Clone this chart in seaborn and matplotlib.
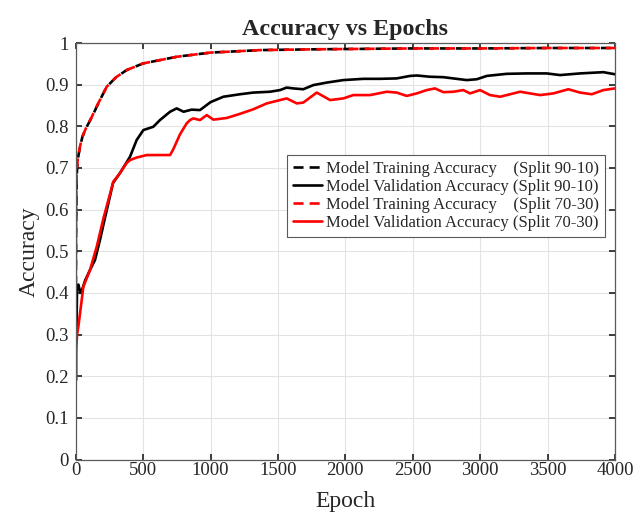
import matplotlib
matplotlib.use("Agg")
import matplotlib.pyplot as plt
from matplotlib.lines import Line2D
import seaborn as sns
import pandas as pd

# Training accuracy, split 90-10
train_9010_epoch = [0, 3, 7, 15, 32, 50, 82, 120, 156, 200, 230, 300, 378, 500,
                    750, 1000, 1370, 1800, 2500, 3000, 3500, 4000]
train_9010_acc = [0.30, 0.55, 0.68, 0.72, 0.751, 0.775, 0.799, 0.822, 0.847, 0.876,
                  0.895, 0.918, 0.935, 0.951, 0.967, 0.977, 0.983, 0.985, 0.987,
                  0.987, 0.988, 0.988]

# Validation accuracy, split 90-10
val_9010_epoch = [0, 5, 10, 20, 35, 50, 70, 106, 143, 180, 217, 277, 329, 403, 452,
                  502, 576, 625, 700, 749, 800, 860, 922, 1000, 1095, 1219, 1317,
                  1441, 1516, 1565, 1614, 1688, 1763, 1862, 1985, 2134, 2257, 2381,
                  2480, 2530, 2628, 2727, 2801, 2900, 2975, 3049, 3197, 3346, 3494,
                  3593, 3741, 3914, 4000]
val_9010_acc = [0.33, 0.30, 0.41, 0.42, 0.40, 0.41, 0.43, 0.455, 0.479, 0.527, 0.58,
                0.664, 0.688, 0.727, 0.767, 0.791, 0.799, 0.815, 0.835, 0.843, 0.835,
                0.840, 0.839, 0.858, 0.871, 0.877, 0.881, 0.883, 0.887, 0.893, 0.891,
                0.889, 0.899, 0.905, 0.911, 0.914, 0.914, 0.915, 0.921, 0.922, 0.919,
                0.918, 0.915, 0.911, 0.913, 0.921, 0.926, 0.927, 0.927, 0.923, 0.927,
                0.930, 0.925]

# Training accuracy, split 70-30
train_7030_epoch = [0, 3, 7, 15, 32, 50, 82, 120, 156, 200, 230, 300, 378, 500,
                    750, 1000, 1370, 1800, 2500, 3000, 3500, 4000]
train_7030_acc = [0.40, 0.58, 0.69, 0.72, 0.752, 0.776, 0.800, 0.823, 0.848, 0.876,
                  0.895, 0.918, 0.935, 0.951, 0.967, 0.977, 0.983, 0.985, 0.987,
                  0.987, 0.988, 0.988]

# Validation accuracy, split 70-30
val_7030_epoch = [0, 2, 5, 10, 20, 57, 106, 156, 205, 279, 329, 378, 403, 452, 527,
                  625, 700, 724, 774, 823, 848, 872, 922, 972, 1021, 1120, 1219, 1318,
                  1417, 1491, 1565, 1640, 1688, 1788, 1887, 1985, 2059, 2183, 2307,
                  2381, 2455, 2530, 2604, 2665, 2727, 2801, 2875, 2925, 2999, 3073,
                  3148, 3296, 3445, 3543, 3654, 3741, 3828, 3914, 4000]
val_7030_acc = [0.25, 0.19, 0.27, 0.30, 0.32, 0.415, 0.455, 0.511, 0.578, 0.667, 0.688,
                0.712, 0.719, 0.725, 0.731, 0.731, 0.731, 0.745, 0.781, 0.807, 0.815,
                0.819, 0.815, 0.827, 0.816, 0.820, 0.830, 0.841, 0.855, 0.861, 0.867,
                0.855, 0.857, 0.881, 0.863, 0.867, 0.875, 0.875, 0.883, 0.881, 0.873,
                0.879, 0.887, 0.891, 0.882, 0.883, 0.887, 0.879, 0.887, 0.875, 0.871,
                0.883, 0.875, 0.879, 0.889, 0.881, 0.877, 0.887, 0.891]

x_ticks = [0, 500, 1000, 1500, 2000, 2500, 3000, 3500, 4000]
y_ticks = [0, 0.1, 0.2, 0.3, 0.4, 0.5, 0.6, 0.7, 0.8, 0.9, 1]
y_tick_labels = ["0", "0.1", "0.2", "0.3", "0.4", "0.5", "0.6", "0.7", "0.8", "0.9", "1"]

legend_labels = [
    "Model Training Accuracy    (Split 90-10)",
    "Model Validation Accuracy (Split 90-10)",
    "Model Training Accuracy    (Split 70-30)",
    "Model Validation Accuracy (Split 70-30)",
]

sns.set_theme(style="whitegrid")
plt.rcParams["font.family"] = ["Liberation Serif", "DejaVu Serif"]

fig = plt.figure(figsize=(6.34, 5.17), dpi=100)
ax = fig.add_axes([0.1194, 0.1112, 0.8506, 0.8056])

LW = 1.9
DASH = (3.8, 2.3)  # in units of line width
series = [
    (train_9010_epoch, train_9010_acc, "black", (0, DASH)),
    (val_9010_epoch, val_9010_acc, "black", "-"),
    (train_7030_epoch, train_7030_acc, "red", (1.6, DASH)),
    (val_7030_epoch, val_7030_acc, "red", "-"),
]

for ep, acc, color, ls in series:
    df = pd.DataFrame({"Epoch": ep, "Accuracy": acc})
    sns.lineplot(data=df, x="Epoch", y="Accuracy", ax=ax, color=color,
                 linewidth=LW, linestyle=ls, legend=False)

ax.set_xlim(0, 4000)
ax.set_ylim(0, 1)
ax.set_xticks(x_ticks)
ax.set_yticks(y_ticks)
ax.set_yticklabels(y_tick_labels)
ax.tick_params(axis="both", labelsize=13.5, direction="in", length=4,
               color="#262626", labelcolor="#262626", top=True, right=True,
               bottom=True, left=True)
ax.tick_params(axis="x", pad=1.5)
ax.tick_params(axis="y", pad=5)
ax.grid(True, color="#e3e3e3", linewidth=0.8)
for sp in ax.spines.values():
    sp.set_visible(True)
    sp.set_color("#5a5a5a")
    sp.set_linewidth(0.9)

ax.set_xlabel("Epoch", fontsize=17, color="#262626", labelpad=9)
ax.set_ylabel("Accuracy", fontsize=17, color="#262626", labelpad=4)
ax.set_title("Accuracy vs Epochs", fontsize=17.3, fontweight="bold", pad=6)

handles = [
    Line2D([], [], color="black", linewidth=LW, linestyle=(0, DASH)),
    Line2D([], [], color="black", linewidth=LW, linestyle="-"),
    Line2D([], [], color="red", linewidth=LW, linestyle=(0, DASH)),
    Line2D([], [], color="red", linewidth=LW, linestyle="-"),
]
leg = ax.legend(handles, legend_labels, loc="upper left",
                bbox_to_anchor=(0.392, 0.731), fontsize=12,
                frameon=True, fancybox=False, edgecolor="#5a5a5a",
                handlelength=1.75, handletextpad=0.25, borderpad=0.35,
                labelspacing=0.12, borderaxespad=0)
leg.get_frame().set_linewidth(0.8)
leg.get_frame().set_alpha(1)

fig.savefig("out.png", dpi=100)
